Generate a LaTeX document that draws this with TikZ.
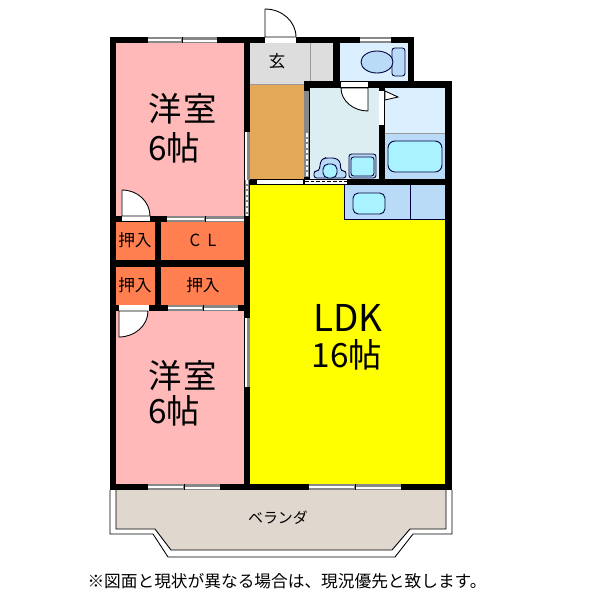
\documentclass[tikz,border=0pt]{standalone}
\usepackage{fontspec}
\setmainfont{Noto Sans CJK JP}
\definecolor{roomPink}{HTML}{FFB9B9}
\definecolor{closetOrange}{HTML}{FF7F50}
\definecolor{hallTan}{HTML}{E3A858}
\definecolor{entryGrey}{HTML}{DDDDDD}
\definecolor{wetBlue}{HTML}{DCEFFF}
\definecolor{washBlue}{HTML}{DDEEF2}
\definecolor{midBlue}{HTML}{B9DBF7}
\definecolor{tubCyan}{HTML}{A9F2FF}
\definecolor{porchBeige}{HTML}{E0D8CF}
\definecolor{lineGrey}{HTML}{888888}
\definecolor{ldkYellow}{HTML}{FFFF00}
\begin{document}
\begin{tikzpicture}[
        x=0.02cm, y=-0.02cm, % Un pixel de la referencia
        wall/.style={fill=black},
        fixture/.style={draw=black!75!blue, line width=0.5pt, rounded corners=1.5pt},
        doorleaf/.style={draw=black, line width=0.5pt, fill=white},
        bigtext/.style={font=\fontsize{19}{19}\selectfont, inner sep=0pt},
        smalltext/.style={font=\fontsize{9.5}{10}\selectfont, inner sep=0pt},
    ]
        \useasboundingbox (0,0) rectangle (600,600);

        % --- Suelos ---
        \fill[roomPink] (116,43) rectangle (245,217);
        \fill[roomPink] (116,310) rectangle (245,485);
        \fill[closetOrange] (116,221) rectangle (245,305);
        \fill[entryGrey] (250,43) rectangle (334,85);
        \fill[hallTan] (250,84) rectangle (305,180);
        \fill[wetBlue] (339,43) rectangle (409,82);
        \fill[washBlue] (309,87) rectangle (380,180);
        \fill[wetBlue] (384,87) rectangle (446,133);
        \fill[midBlue] (384,133) rectangle (446,180);
        \fill[ldkYellow] (250,184) rectangle (446,485);
        \fill[midBlue] (344,184) rectangle (446,219);
        \draw[black!75!blue, line width=0.5pt] (344,184) -- (344,219) -- (445,219) (410,184) -- (410,219);
        \draw[black!40, line width=0.4pt] (310,43) -- (310,81) (250,84) -- (304,84) (384,133) -- (445,133);

        % --- Balcon ---
        \draw[fill=white, line width=0.5pt] (110,490) -- (110,534) -- (153,534) -- (168,557) -- (395,557) -- (413,534) -- (452,534) -- (452,490);
        \fill[porchBeige] (116,488) -- (116,529) -- (155,529) -- (171,550) -- (392,550) -- (410,529) -- (446,529) -- (446,488) -- cycle;
        \draw[line width=0.5pt] (116,490) -- (116,529) -- (155,529) -- (171,550) -- (392,550) -- (410,529) -- (446,529) -- (446,490);

        % --- Muros ---
        \fill[wall] (110,37) rectangle (116,490);
        \fill[wall] (110,37) rectangle (414,43);
        \fill[wall] (110,484) rectangle (452,490);
        \fill[wall] (244,37) rectangle (250,490);
        \fill[wall] (110,216) rectangle (250,222);
        \fill[wall] (110,260) rectangle (250,267);
        \fill[wall] (110,305) rectangle (250,311);
        \fill[wall] (155,216) rectangle (161,311);
        \fill[wall] (333,37) rectangle (340,88);
        \fill[wall] (408,37) rectangle (414,88);
        \fill[wall] (304,81) rectangle (452,88);
        \fill[wall] (304,81) rectangle (310,184);
        \fill[wall] (379,81) rectangle (385,185);
        \fill[wall] (445,81) rectangle (452,490);
        \fill[wall] (250,179) rectangle (452,185);

        % --- Ventanas ---
        \foreach \xa/\xm/\xb/\ya in {148/182/217/37, 167/205/244/216, 168/203/238/305, 148/184/220/484, 309/355/401/484}{
            \fill[lineGrey] (\xa,\ya) rectangle (\xb,\ya+6);
            \fill[white] (\xa,\ya+1.5) rectangle (\xm-1,\ya+3.5);
            \fill[white] (\xm+1,\ya+2.5) rectangle (\xb,\ya+4.5);
            \draw[black, line width=0.4pt] (\xm,\ya) -- (\xm,\ya+6);
        }
        \fill[lineGrey] (360,37) rectangle (391,43);
        \fill[white] (360,39) rectangle (391,41);

        % --- Correderas ---
        \foreach \ya/\yb in {132/180, 318/387}{
            \fill[lineGrey] (245,\ya) rectangle (250,\yb);
            \fill[white] (245.5,\ya) rectangle (247.5,\yb);
        }
        \fill[lineGrey] (245,180) rectangle (249,216);
        \draw[white, line width=0.8pt, dash pattern=on 2pt off 1.2pt] (247,180) -- (247,216);
        \fill[lineGrey] (304,91) rectangle (309,177);
        \draw[white, line width=0.8pt, dash pattern=on 2pt off 1.2pt] (307,133) -- (307,177);
        \fill[white] (305,179.5) rectangle (347,183.5);
        \draw[black, line width=0.6pt, dash pattern=on 2pt off 1.2pt] (305,181.5) -- (347,181.5);
        \fill[white] (257,180) rectangle (303,183.5);

        % --- Puertas ---
        \fill[white] (265,37) rectangle (296,42.5);
        \draw[doorleaf] (265,37) -- (265,9) arc[start angle=-90, end angle=0, x radius=31, y radius=28] -- cycle;
        \fill[white] (122,216) rectangle (150,221);
        \draw[doorleaf] (122,216) -- (122,190) arc[start angle=-90, end angle=0, x radius=28, y radius=26] -- cycle;
        \fill[white] (119,305) rectangle (149,310.5);
        \draw[doorleaf] (119,311) -- (119,337) arc[start angle=90, end angle=0, x radius=29, y radius=26] -- cycle;
        \fill[white] (341,82) rectangle (368,87);
        \draw[doorleaf] (368,88) -- (368,111) arc[start angle=90, end angle=180, x radius=27, y radius=23] -- cycle;
        \fill[white] (379.5,91) rectangle (384,125);
        \draw[doorleaf] (385,91) -- (398,97) -- (385,100) -- cycle;

        % --- Aparatos ---
        \draw[fixture, fill=midBlue] (392,48) rectangle (405,76);
        \draw[fixture, fill=midBlue] (377,62) ellipse (16 and 11);
        \draw[fixture, fill=tubCyan, rounded corners=4pt] (388,141) rectangle (442,172);
        \draw[fixture, fill=tubCyan, rounded corners=3pt] (353,193) rectangle (385,214);
        \draw[fixture, fill=midBlue] (349,154) rectangle (376,178);
        \draw[fixture, fill=tubCyan] (351,157) rectangle (374,176);
        \draw[fixture, fill=midBlue] (314,178) -- (314,171) -- (319,171) -- (321,160) -- (325,158) -- (335,158) -- (340,161) -- (341,171) -- (346,171) -- (346,178) -- cycle;
        \draw[fixture, fill=tubCyan, rounded corners=3pt] (323,164) rectangle (337,178);

        % --- Textos ---
        \node[bigtext] (room-a) at (183,109) {洋\hspace{1pt}室};
        \node[bigtext] (size-a) at (174,148) {6帖};
        \node[bigtext] (room-b) at (183,376) {洋\hspace{1pt}室};
        \node[bigtext] (size-b) at (174,411) {6帖};
        \node[bigtext, font=\fontsize{21}{21}\selectfont] (ldk) at (348,318) {LDK};
        \node[bigtext] (size-ldk) at (347,355) {16帖};
        \node[smalltext] (entry) at (277,61) {玄};
        \node[smalltext] (closet-a) at (135,240) {押入};
        \node[smalltext] (closet-b) at (203,240) {C\hspace{4pt}L};
        \node[smalltext] (closet-c) at (135,285) {押入};
        \node[smalltext] (closet-d) at (203,285) {押入};
        \node[smalltext, font=\fontsize{8.5}{9}\selectfont] (porch) at (278,518) {ベランダ};
        \node[smalltext, font=\fontsize{9.5}{10}\selectfont] (note) at (287,581) {※図面と現状が異なる場合は、現況優先と致します。};
    \end{tikzpicture}
\end{document}
